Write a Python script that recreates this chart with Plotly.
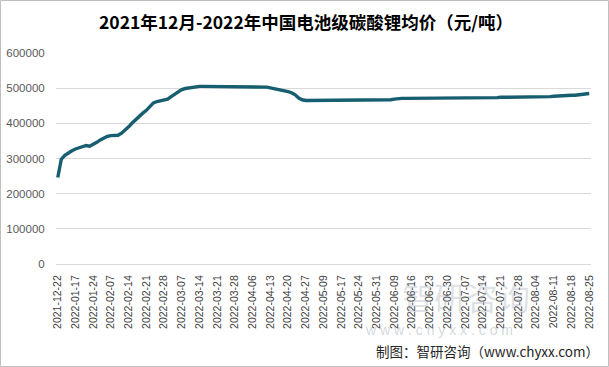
import plotly.graph_objects as go

# Tick labels (every 5th trading day)
tick_labels = ["2021-12-22", "2022-01-17", "2022-01-24", "2022-02-07", "2022-02-14",
               "2022-02-21", "2022-02-28", "2022-03-07", "2022-03-14", "2022-03-21",
               "2022-03-28", "2022-04-06", "2022-04-13", "2022-04-20", "2022-04-27",
               "2022-05-09", "2022-05-17", "2022-05-24", "2022-05-31", "2022-06-09",
               "2022-06-16", "2022-06-23", "2022-06-30", "2022-07-07", "2022-07-14",
               "2022-07-21", "2022-07-28", "2022-08-04", "2022-08-11", "2022-08-18",
               "2022-08-25"]

# Price values (yuan/ton), one per trading day
prices = [
    246000, 298000, 309000, 316000, 322000, 327000, 331000, 334000, 337000, 335000,
    340000, 346000, 353000, 359000, 363000, 365000, 365000, 366000, 372000, 380000,
    390000, 401000, 411000, 420000, 429000, 437000, 448000, 458000, 462000, 464000,
    466000, 469000, 476000, 483000, 491000, 496000, 499000, 501000, 503000, 504000,
    505000, 505000, 505000, 505000, 505000, 505000, 505000, 505000, 505000, 505000,
    505000, 505000, 505000, 505000, 505000, 505000, 505000, 505000, 505000, 503000,
    501000, 499000, 497000, 496000, 493000, 490000, 487000, 481000, 472000, 467000,
    465000, 465000, 465000, 465000, 465000, 465000, 465000, 465000, 465000, 465000,
    465000, 465000, 465000, 465000, 465000, 465000, 465000, 465000, 465000, 465000,
    465000, 465000, 465000, 465000, 467000, 469000, 471000, 471000, 471000, 471000,
    471000, 471000, 471000, 471000, 471000, 471000, 471000, 471000, 471000, 471000,
    471000, 471000, 471000, 471000, 471000, 471000, 471000, 471000, 471000, 471000,
    471000, 471000, 471000, 471000, 473000, 474000, 474000, 474000, 474000, 474000,
    474000, 474000, 474000, 474000, 474000, 474000, 474000, 474000, 475000, 476000,
    477000, 478000, 478000, 479000, 479000, 480000, 480000, 481000, 483000, 485000,
    485000,
]

y_ticks = [0, 100000, 200000, 300000, 400000, 500000, 600000]

title_text = "2021年12月-2022年中国电池级碳酸锂均价（元/吨）"
source_text = "制图：智研咨询（www.chyxx.com）"

x_idx = list(range(len(prices)))
tick_pos = list(range(0, len(prices), 5))

fig = go.Figure()
fig.add_trace(go.Scatter(
    x=x_idx, y=prices, mode="lines",
    line=dict(color="#175e70", width=3.4),
    hoverinfo="y", showlegend=False,
))

fig.update_layout(
    template="none",
    width=609, height=367,
    margin=dict(l=56, r=18, t=53, b=103, pad=0),
    paper_bgcolor="white", plot_bgcolor="white",
    font=dict(family="Liberation Sans, Arial, sans-serif", color="#595959"),
    xaxis=dict(
        range=[-0.5, len(prices) - 0.5],
        tickmode="array", tickvals=tick_pos, ticktext=tick_labels,
        tickangle=-90, tickfont=dict(size=10.5, color="#404040"),
        showgrid=False, zeroline=False, showline=False,
        ticks="outside", ticklen=6, tickcolor="rgba(0,0,0,0)",
        automargin=False,
    ),
    yaxis=dict(
        range=[0, 600000],
        tickmode="array", tickvals=y_ticks, ticktext=[str(v) for v in y_ticks],
        tickfont=dict(size=11.5, color="#595959"),
        showgrid=True, gridcolor="#d9d9d9", gridwidth=1,
        zeroline=True, zerolinecolor="#d9d9d9", zerolinewidth=1,
        showline=False, ticks="outside", ticklen=8, tickcolor="rgba(0,0,0,0)",
        automargin=False,
    ),
)

# outer border
fig.add_shape(type="rect", xref="paper", yref="paper",
              x0=(0.5 - 56) / 535, x1=(608.5 - 56) / 535,
              y0=(264 - 366.5) / 211, y1=(264 - 0.5) / 211,
              line=dict(color="#bfbfbf", width=1), fillcolor="rgba(0,0,0,0)",
              layer="below")

# watermark
fig.add_annotation(text="智研咨询", xref="paper", yref="paper",
                   x=(532 - 56) / 535, y=(264 - 321) / 211,
                   showarrow=False,
                   font=dict(family="Noto Sans CJK SC", size=32, color="rgba(140,155,170,0.30)"))
fig.add_annotation(text="w w w . c h y x x . c o m", xref="paper", yref="paper",
                   x=(515 - 56) / 535, y=(264 - 340) / 211,
                   showarrow=False,
                   font=dict(family="Liberation Sans", size=14, color="rgba(140,155,170,0.40)"))

fig.add_annotation(text=f"<b>{title_text}</b>", xref="paper", yref="paper",
                   x=(306 - 56) / 535, y=(264 - 21) / 211,
                   xanchor="center", yanchor="middle", showarrow=False,
                   font=dict(family="Noto Sans CJK SC", size=17.5, color="#000000"))
fig.add_annotation(text=source_text, xref="paper", yref="paper",
                   x=(601 - 56) / 535, y=(264 - 351) / 211,
                   xanchor="right", yanchor="middle", showarrow=False,
                   font=dict(family="Noto Sans CJK SC", size=13.5, color="#262626"))

fig.write_html("out.html", config={"displayModeBar": False},
               post_script="document.body.style.margin='0';")
